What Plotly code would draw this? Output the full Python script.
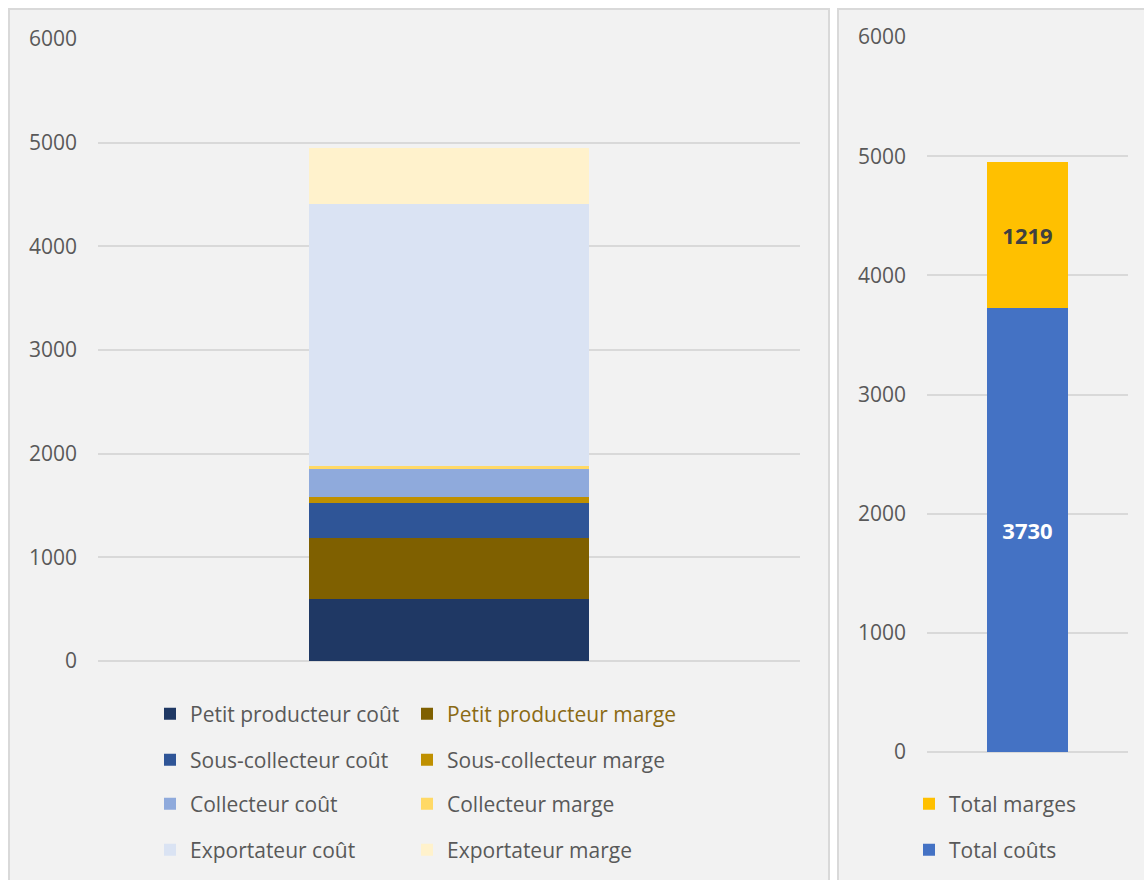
import plotly.graph_objects as go

W, H = 1144, 880

# Chaîne de valeur : coûts et marges par acteur (empilés)
stage_names = [
    "Petit producteur coût", "Petit producteur marge",
    "Sous-collecteur coût", "Sous-collecteur marge",
    "Collecteur coût", "Collecteur marge",
    "Exportateur coût", "Exportateur marge",
]
stage_values = [600, 590, 330, 60, 275, 30, 2525, 539]
stage_colors = [
    "#1f3864", "#7f6000",
    "#2f5597", "#bf9000",
    "#8faadc", "#ffd966",
    "#dae3f3", "#fff2cc",
]

# Totaux
total_names = ["Total coûts", "Total marges"]
total_values = [3730, 1219]
total_colors = ["#4472c4", "#ffc000"]
total_label_colors = ["#ffffff", "#404040"]

y_ticks = [0, 1000, 2000, 3000, 4000, 5000, 6000]

FONT = "Open Sans"
GREY = "#595959"
GRID = "#d9d9d9"


def px_x(x):
    return x / W


def px_y(y):
    return 1 - y / H


legend_base = dict(
    orientation="h", font=dict(family=FONT, size=21, color=GREY),
    bgcolor="rgba(0,0,0,0)", borderwidth=0, xanchor="left", yanchor="middle",
    traceorder="normal", itemclick=False, itemdoubleclick=False,
)

# one legend box per entry: two columns x four rows under the left chart
col_x = [150, 407]
row_y = [714, 760, 804, 850]
legends = {}
stage_legend_ids = []
for i in range(len(stage_names)):
    key = "legend" if i == 0 else "legend%d" % (i + 1)
    legends[key] = dict(legend_base, x=px_x(col_x[i % 2]), y=px_y(row_y[i // 2]))
    stage_legend_ids.append(key)

# totals legend: "Total marges" above "Total coûts"
legends["legend9"] = dict(legend_base, x=px_x(909), y=px_y(850))
legends["legend10"] = dict(legend_base, x=px_x(909), y=px_y(804))
total_legend_ids = ["legend9", "legend10"]

fig = go.Figure()

for name, val, col, lg in zip(stage_names, stage_values, stage_colors, stage_legend_ids):
    label = name
    if name == "Petit producteur marge":
        label = "<span style='color:#8a6a14'>%s</span>" % name
    fig.add_trace(go.Bar(
        x=[""], y=[val], name=label, marker=dict(color=col, line=dict(width=0)),
        width=0.4, xaxis="x", yaxis="y", legend=lg, hoverinfo="name+y",
    ))

for name, val, col, tc, lg in zip(total_names, total_values, total_colors,
                                  total_label_colors, total_legend_ids):
    fig.add_trace(go.Bar(
        x=[""], y=[val], name=name, marker=dict(color=col, line=dict(width=0)),
        width=0.4, xaxis="x2", yaxis="y2", legend=lg,
        text=[val], texttemplate="<b>%{y}</b>", textposition="inside",
        insidetextanchor="middle", textangle=0,
        textfont=dict(family=FONT, size=22, color=tc), hoverinfo="name+y",
    ))

axis_y = dict(
    range=[0, 6000], tickvals=y_ticks, showgrid=True, gridcolor=GRID, gridwidth=2,
    zeroline=True, zerolinecolor=GRID, zerolinewidth=2, showline=False,
    ticks="", ticklabelstandoff=20,
    tickfont=dict(family=FONT, size=21, color=GREY), fixedrange=True,
)
axis_x = dict(showticklabels=False, showgrid=False, zeroline=False,
              showline=False, ticks="", fixedrange=True)

fig.update_layout(
    width=W, height=H, margin=dict(l=0, r=0, t=0, b=0, autoexpand=False),
    paper_bgcolor="#ffffff", plot_bgcolor="rgba(0,0,0,0)",
    barmode="stack", bargap=0.6, showlegend=True,
    xaxis=dict(axis_x, domain=[px_x(98), px_x(800)], anchor="y"),
    yaxis=dict(axis_y, domain=[px_y(661), px_y(39)], anchor="x"),
    xaxis2=dict(axis_x, domain=[px_x(927), px_x(1128)], anchor="y2"),
    yaxis2=dict(axis_y, domain=[px_y(752), px_y(37)], anchor="x2"),
    shapes=[
        dict(type="rect", xref="paper", yref="paper", layer="below",
             x0=px_x(9), x1=px_x(829), y0=-0.02, y1=px_y(9),
             fillcolor="#f2f2f2", line=dict(color=GRID, width=2)),
        dict(type="rect", xref="paper", yref="paper", layer="below",
             x0=px_x(838), x1=1.02, y0=-0.02, y1=px_y(9),
             fillcolor="#f2f2f2", line=dict(color=GRID, width=2)),
    ],
    **legends,
)

fig.write_html("out.html")
